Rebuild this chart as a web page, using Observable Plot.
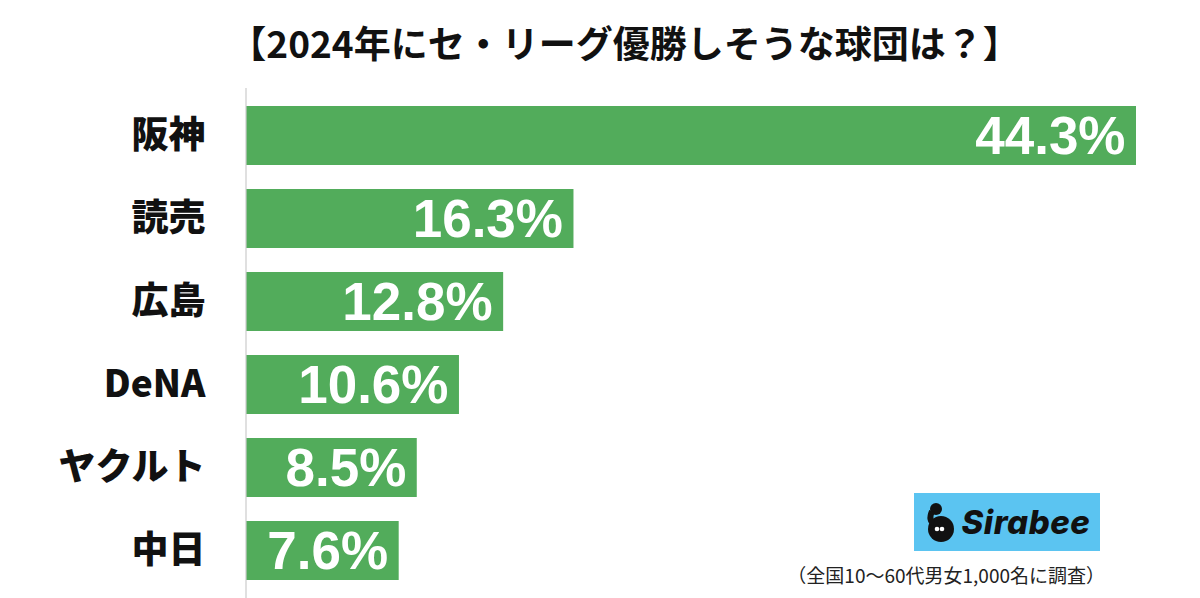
<!DOCTYPE html>
<html><head><meta charset="utf-8">
<script src="https://cdn.jsdelivr.net/npm/d3@7"></script>
<script src="https://cdn.jsdelivr.net/npm/@observablehq/plot@0.6"></script>
<style>
html,body{margin:0;padding:0;background:#fff;}
#wrap{position:relative;width:1200px;height:598px;overflow:hidden;}
#logo{position:absolute;left:914px;top:493px;width:186px;height:58px;background:#5bc4f1;display:flex;align-items:center;justify-content:center;gap:4px;}
#logo span{font-family:"Inter","Liberation Sans",sans-serif;font-weight:800;font-style:italic;font-size:33px;color:#111;letter-spacing:0.5px;}
#caption{position:absolute;right:95px;top:562px;font-family:"Noto Sans CJK JP",sans-serif;font-size:19px;color:#222;white-space:nowrap;line-height:26px;}
</style></head>
<body><div id="wrap"></div>
<script>
const title = "【2024年にセ・リーグ優勝しそうな球団は？】";
const teams = ["阪神", "読売", "広島", "DeNA", "ヤクルト", "中日"];
const shares = [44.3, 16.3, 12.8, 10.6, 8.5, 7.6];
const caption = "（全国10〜60代男女1,000名に調査）";
const brand = "Sirabee";

const data = teams.map((t, i) => ({team: t, value: shares[i]}));

const chart = Plot.plot({
  width: 1200,
  height: 598,
  marginTop: 88,
  marginBottom: 0,
  marginLeft: 246,
  marginRight: 64,
  style: {background: "#fff", overflow: "visible"},
  x: {domain: [0, 44.3], axis: null},
  y: {domain: teams, range: [91, 595], paddingInner: 0.2857, paddingOuter: 0.1429, label: null},
  marks: [
    Plot.barX(data, {x: "value", y: "team", fill: "#52ac5b"}),
    Plot.ruleX([0], {stroke: "#cccccc", strokeWidth: 1.2, dx: -0.5}),
    Plot.axisY({tickSize: 0, tickPadding: 41, fontSize: 37, fontWeight: 900,
      fontFamily: "Noto Sans CJK JP", fill: "#111", label: null}),
    Plot.text(data, {x: "value", y: "team", text: d => d.value.toFixed(1) + "%",
      textAnchor: "end", dx: -11, dy: 1, fill: "#fff", fontSize: 53, fontWeight: "bold",
      fontFamily: "Liberation Sans"}),
    Plot.text([title], {frameAnchor: "top", dy: -57, text: d => d, fontSize: 37,
      fontWeight: "bold", fontFamily: "Noto Sans CJK JP", fill: "#111", dx: -67})
  ]
});
const wrap = document.getElementById("wrap");
wrap.appendChild(chart);

const logo = document.createElement("div");
logo.id = "logo";
logo.innerHTML = `<svg width="34" height="42" viewBox="0 0 34 42">
  <circle cx="17" cy="28" r="13" fill="#111"/>
  <circle cx="12" cy="8" r="6" fill="#111"/>
  <path d="M8 10 Q4 20 10 22" stroke="#111" stroke-width="6" fill="none"/>
  <circle cx="13" cy="28" r="2.3" fill="#fff"/><circle cx="18" cy="28" r="2.3" fill="#fff"/>
</svg><span></span>`;
logo.querySelector("span").textContent = brand;
wrap.appendChild(logo);

const cap = document.createElement("div");
cap.id = "caption";
cap.textContent = caption;
wrap.appendChild(cap);
</script></body></html>
